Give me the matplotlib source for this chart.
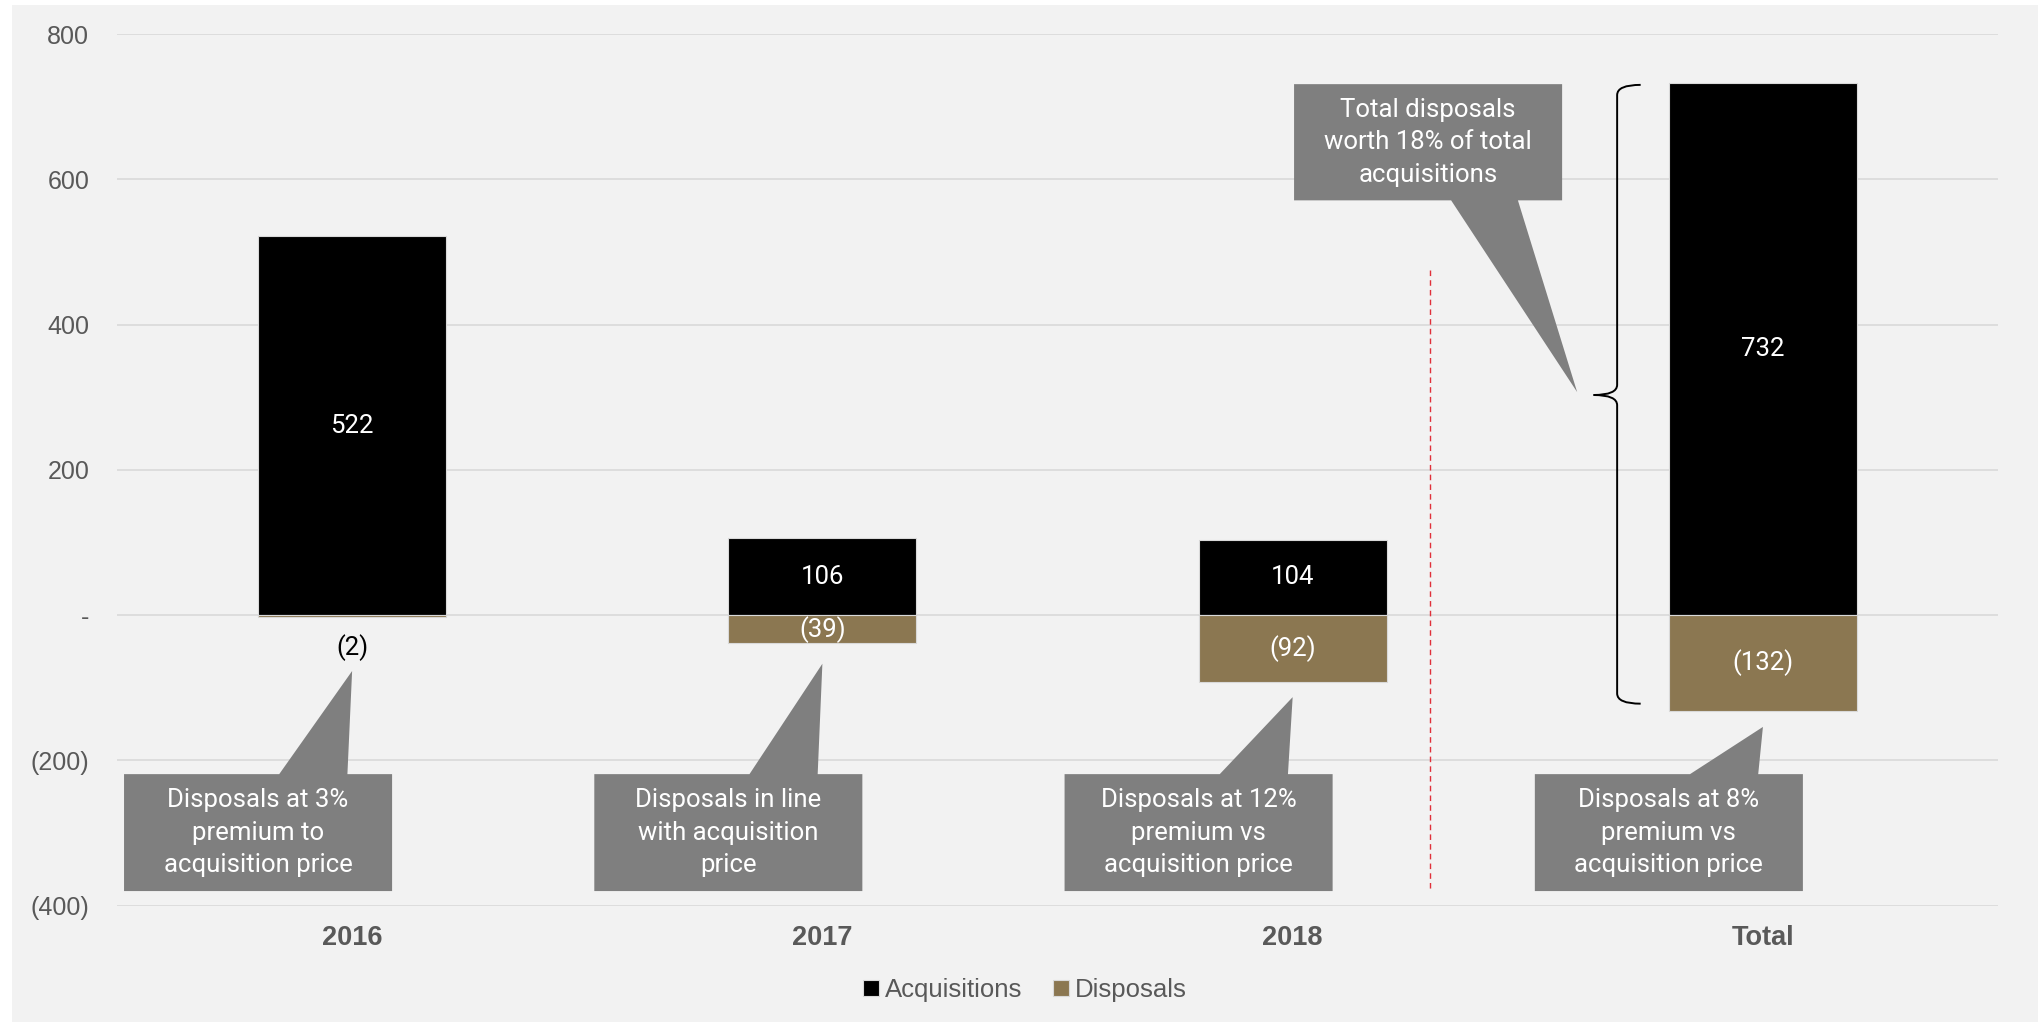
import numpy as np
import matplotlib
matplotlib.use("Agg")
import matplotlib.pyplot as plt
from matplotlib.patches import Polygon, Rectangle, PathPatch
from matplotlib.path import Path
from matplotlib.ticker import FuncFormatter

categories = ['2016', '2017', '2018', 'Total']
acquisitions = [522, 106, 104, 732]
disposals = [-2, -39, -92, -132]
notes = ['Disposals at 3%\npremium to\nacquisition price',
         'Disposals in line\nwith acquisition\nprice',
         'Disposals at 12%\npremium vs\nacquisition price',
         'Disposals at 8%\npremium vs\nacquisition price']
note_tips = [-77, -67, -113, -154]
total_note = 'Total disposals\nworth 18% of total\nacquisitions'
yticks = [-400, -200, 0, 200, 400, 600, 800]

C_ACQ = '#000000'
C_DIS = '#8B7751'
C_BOX = '#7F7F7F'
C_BG = '#F2F2F2'
C_TXT = '#595959'
ARIAL = ['Liberation Sans', 'DejaVu Sans']
ROBOTO = ['Roboto', 'DejaVu Sans']


def fmt_val(v, pos=None):
    if v == 0:
        return '-'
    if v < 0:
        return '({:,.0f})'.format(-v)
    return '{:,.0f}'.format(v)


fig = plt.figure(figsize=(20.38, 10.22), dpi=100, facecolor='white')
fig.patches.append(Rectangle((12 / 2038, 0), 1, 1 - 5 / 1022, transform=fig.transFigure,
                             facecolor=C_BG, edgecolor='none', zorder=-10))
ax = fig.add_axes([0.0574, 0.1139, 0.9230, 0.8528])
ax.patch.set_alpha(0)

x = np.arange(len(categories))
w = 0.4
b1 = ax.bar(x, acquisitions, w, color=C_ACQ, edgecolor='#d9d9d9', linewidth=0.8,
            label='Acquisitions', zorder=3)
b2 = ax.bar(x, disposals, w, color=C_DIS, edgecolor='#d9d9d9', linewidth=0.8,
            label='Disposals', zorder=3)

# value labels
for xi, v in zip(x, acquisitions):
    ax.text(xi, v / 2, fmt_val(v), ha='center', va='center', color='white',
            fontsize=18.5, family=ROBOTO, zorder=5)
for xi, v in zip(x, disposals):
    if abs(v) < 20:
        ax.annotate(fmt_val(v), (xi, v), xytext=(0, -13), textcoords='offset points',
                    ha='center', va='top', color='black', fontsize=18.5, family=ROBOTO, zorder=5)
    else:
        ax.text(xi, v / 2, fmt_val(v), ha='center', va='center', color='white',
                fontsize=18.5, family=ROBOTO, zorder=5)

# bottom callouts
box_w, box_top, box_bot = 0.57, -219, -380
for xi, txt, tip in zip(x, notes, note_tips):
    cx = xi - 0.2
    x0, x1 = cx - box_w / 2, cx + box_w / 2
    pts = [(x0, box_bot), (x1, box_bot), (x1, box_top), (xi - 0.01, box_top),
           (xi + 0.0, tip), (xi - 0.155, box_top), (x0, box_top)]
    ax.add_patch(Polygon(pts, closed=True, facecolor=C_BOX, edgecolor='none', zorder=4))
    ax.text(cx, (box_top + box_bot) / 2, txt, ha='center', va='center', color='white',
            fontsize=18.5, family=ROBOTO, linespacing=1.45, zorder=5)

# top callout
cx, tb, tt = 2.288, 571, 731
x0, x1 = cx - box_w / 2, cx + box_w / 2
pts = [(x0, tt), (x1, tt), (x1, tb), (2.479, tb), (2.605, 307), (2.337, tb), (x0, tb)]
ax.add_patch(Polygon(pts, closed=True, facecolor=C_BOX, edgecolor='none', zorder=4))
ax.text(cx, (tt + tb) / 2, total_note, ha='center', va='center', color='white',
        fontsize=18.5, family=ROBOTO, linespacing=1.45, zorder=5)

# curly brace beside total bar
xv, xe, xt = 2.69, 2.74, 2.64
top, bot, mid, r = 730, -122, 303, 14
verts = [(xe, top), (xv, top), (xv, top - r), (xv, mid + r), (xv, mid), (xt, mid),
         (xv, mid), (xv, mid - r), (xv, bot + r), (xv, bot), (xe, bot)]
codes = [Path.MOVETO, Path.CURVE3, Path.CURVE3, Path.LINETO, Path.CURVE3, Path.CURVE3,
         Path.CURVE3, Path.CURVE3, Path.LINETO, Path.CURVE3, Path.CURVE3]
ax.add_patch(PathPatch(Path(verts, codes), facecolor='none', edgecolor='black',
                       linewidth=1.4, zorder=4))

# separator
ax.plot([2.292, 2.292], [475, -380], color='#E0303A', linewidth=1.0,
        dashes=(4, 3), zorder=2)

ax.set_xlim(-0.5, 3.5)
ax.set_ylim(-400, 800)
ax.set_yticks(yticks)
ax.yaxis.set_major_formatter(FuncFormatter(fmt_val))
ax.set_xticks(x)
ax.set_xticklabels(categories)
ax.grid(axis='y', color='#D9D9D9', linewidth=1.2, zorder=1)
ax.set_axisbelow(True)
for s in ax.spines.values():
    s.set_visible(False)
ax.tick_params(axis='both', length=0)
ax.tick_params(axis='y', pad=20, labelcolor=C_TXT, labelsize=18)
ax.tick_params(axis='x', pad=14, labelcolor=C_TXT, labelsize=19.5)
for lab in ax.get_yticklabels():
    lab.set_family(ARIAL)
for lab in ax.get_xticklabels():
    lab.set_family(ARIAL)
    lab.set_fontweight('bold')

fig.legend(handles=[b1, b2], labels=['Acquisitions', 'Disposals'], loc='center',
           bbox_to_anchor=(0.503, 0.031), ncol=2, frameon=False, handlelength=0.6,
           handleheight=0.6, handletextpad=0.25, columnspacing=1.2,
           prop={'family': ARIAL, 'size': 18.5}, labelcolor=C_TXT)

fig.savefig('out.png', dpi=100, facecolor='white')
